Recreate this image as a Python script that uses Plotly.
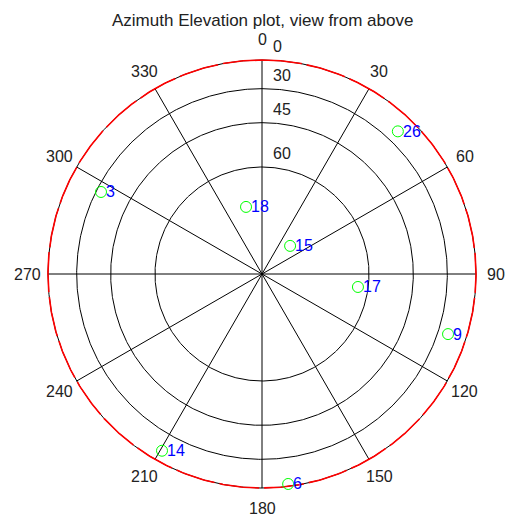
import numpy as np
import plotly.graph_objects as go

# ---- data ----
sat_ids = ["26", "9", "14", "6", "3", "18", "15", "17"]
sat_az = [43.6, 107.9, 209.5, 172.9, 297.0, 346.6, 45.0, 97.7]      # degrees, clockwise from north
sat_el = [23.0, 24.0, 18.4, 8.6, 32.4, 71.2, 79.3, 63.1]            # degrees

ring_elev = [30, 45, 60]
ring_labels = ["0", "30", "45", "60"]
ring_label_elev = [0, 30, 45, 60]
spoke_az = list(range(0, 360, 30))
az_labels = [str(a) for a in spoke_az]

title = "Azimuth Elevation plot, view from above"

# ---- geometry helpers (elevation -> radius = cos(el)) ----
def to_xy(az, el):
    az = np.radians(np.asarray(az, dtype=float))
    r = np.cos(np.radians(np.asarray(el, dtype=float)))
    return r * np.sin(az), r * np.cos(az)

fig = go.Figure()
theta = np.linspace(0, 360, 721)

# rings
for e in ring_elev:
    x, y = to_xy(theta, np.full_like(theta, e))
    fig.add_trace(go.Scatter(x=x, y=y, mode="lines", line=dict(color="black", width=1),
                             hoverinfo="skip", showlegend=False))

# spokes
sx, sy = [], []
for a in spoke_az:
    x, y = to_xy([a, a], [90, 0])
    sx += list(x) + [None]
    sy += list(y) + [None]
fig.add_trace(go.Scatter(x=sx, y=sy, mode="lines", line=dict(color="black", width=1),
                         hoverinfo="skip", showlegend=False))

# outer horizon circle (black under red dashes)
ox, oy = to_xy(theta, np.zeros_like(theta))
fig.add_trace(go.Scatter(x=ox, y=oy, mode="lines", line=dict(color="black", width=1),
                         hoverinfo="skip", showlegend=False))
fig.add_trace(go.Scatter(x=ox, y=oy, mode="lines", line=dict(color="#ff0000", width=1.6, dash="40px,5px"),
                         hoverinfo="skip", showlegend=False))

# satellites
px_, py_ = to_xy(sat_az, sat_el)
fig.add_trace(go.Scatter(x=px_, y=py_, mode="markers",
                         marker=dict(symbol="circle-open", size=11, color="#00ff00", line=dict(width=1)),
                         showlegend=False))

font = "Liberation Sans, Arial, sans-serif"
ann = []
for sid, x, y in zip(sat_ids, px_, py_):
    ann.append(dict(x=x, y=y, text=sid, showarrow=False, xanchor="left", yanchor="middle",
                    xshift=3, font=dict(family=font, size=16, color="#0000ff")))

# azimuth labels
R_LAB = 1.095
for a, t in zip(spoke_az, az_labels):
    ar = np.radians(a)
    ann.append(dict(x=R_LAB * np.sin(ar), y=R_LAB * np.cos(ar), text=t, showarrow=False,
                    xanchor="center", yanchor="middle", font=dict(family=font, size=16, color="#222222")))

# elevation labels
for e, t in zip(ring_label_elev, ring_labels):
    x, y = to_xy([0], [e])
    ann.append(dict(x=x[0], y=y[0], text=t, showarrow=False, xanchor="left", yanchor="bottom",
                    xshift=9, yshift=3, font=dict(family=font, size=16, color="#222222")))

# title
ann.append(dict(x=0, y=1.0, xref="x", yref="paper", text=title, showarrow=False,
                xanchor="center", yanchor="top", yshift=-9,
                font=dict(family=font, size=17, color="#222222")))

W, H = 507, 522
cx, cy, R = 262, 274, 214
fig.update_layout(
    width=W, height=H, margin=dict(l=0, r=0, t=0, b=0),
    paper_bgcolor="white", plot_bgcolor="white",
    xaxis=dict(range=[-cx / R, (W - cx) / R], visible=False, fixedrange=True),
    yaxis=dict(range=[(cy - H) / R, cy / R], visible=False, fixedrange=True),
    annotations=ann,
)
fig.write_html("out.html")
